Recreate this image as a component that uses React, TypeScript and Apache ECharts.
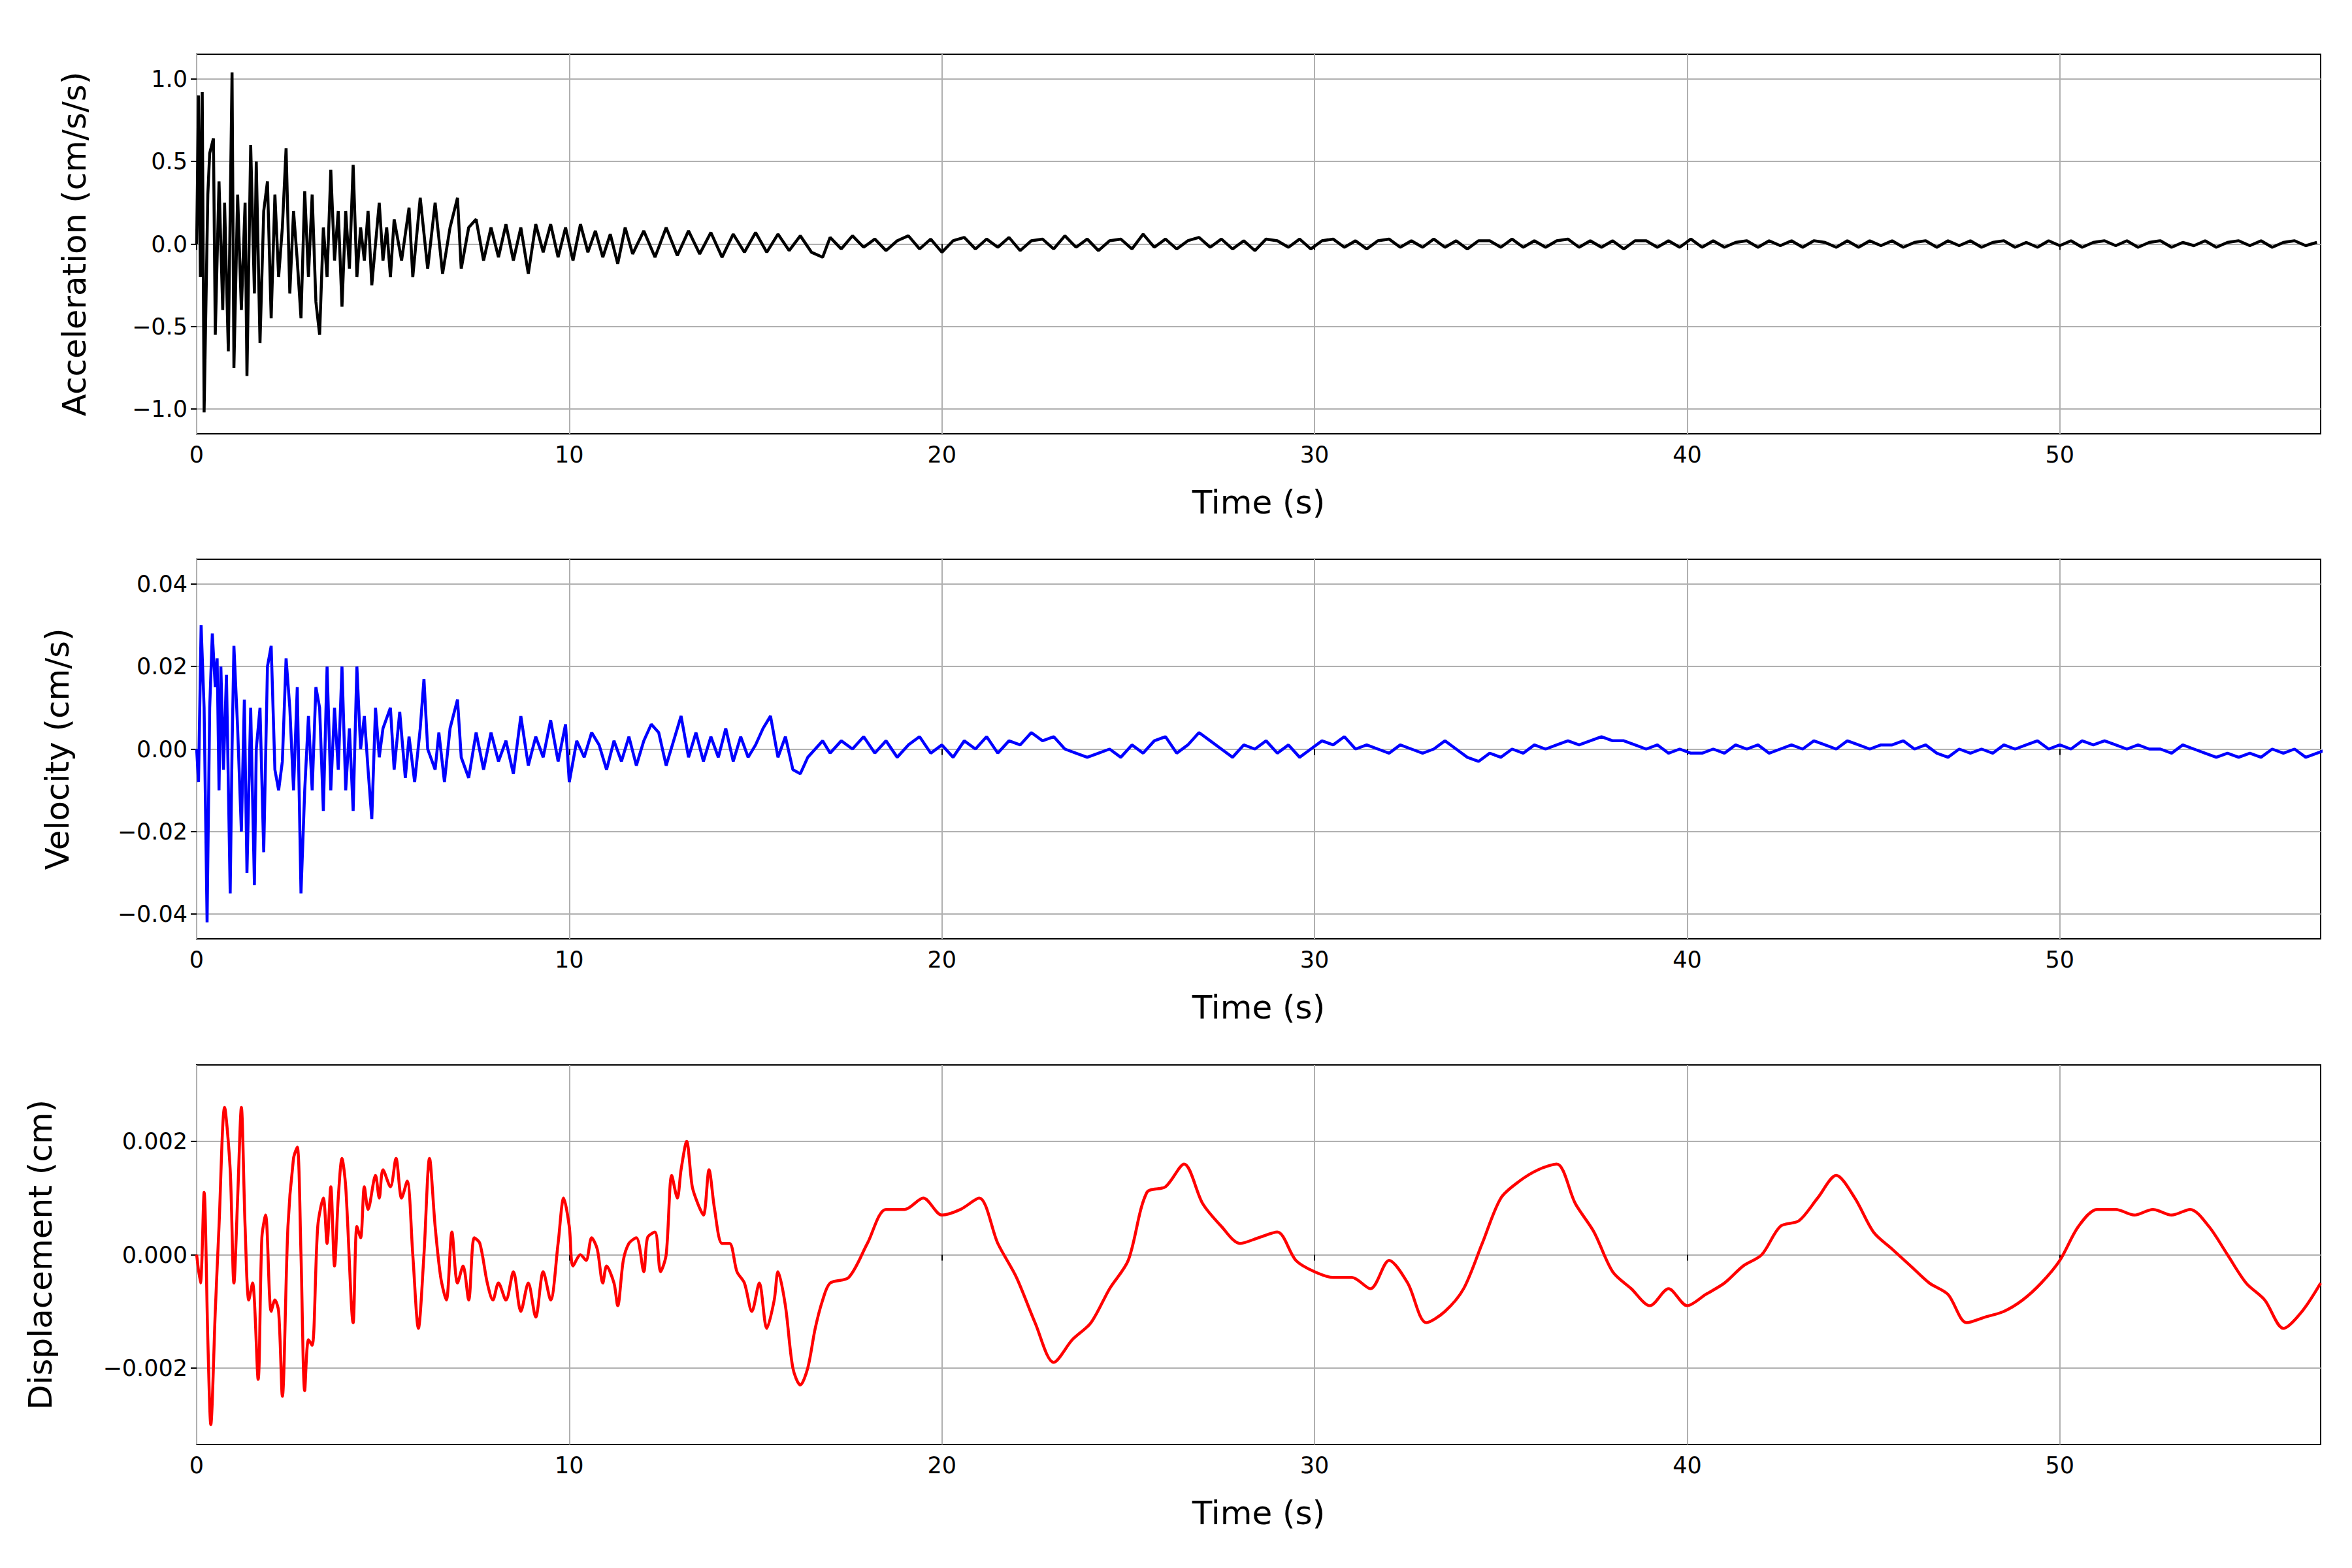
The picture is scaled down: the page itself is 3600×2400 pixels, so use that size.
import React, { useEffect, useRef } from 'react';
import * as echarts from 'echarts';

// acceleration (cm/s/s): early strong motion as [t, a]
const accelEarly: [number, number][] = [
  [0, 0], [0.05, 0.9], [0.1, -0.2], [0.15, 0.92], [0.2, -1.02], [0.3, 0.3], [0.35, 0.55], [0.45, 0.64],
  [0.5, -0.55], [0.6, 0.38], [0.7, -0.4], [0.75, 0.25], [0.85, -0.65], [0.9, 0.2], [0.95, 1.04], [1.0, -0.75],
  [1.1, 0.3], [1.2, -0.4], [1.3, 0.25], [1.35, -0.8], [1.45, 0.6], [1.55, -0.3], [1.6, 0.5], [1.7, -0.6],
  [1.8, 0.2], [1.9, 0.38], [2.0, -0.45], [2.1, 0.3], [2.2, -0.2], [2.3, 0.1], [2.4, 0.58], [2.5, -0.3],
  [2.6, 0.2], [2.7, -0.1], [2.8, -0.45], [2.9, 0.32], [3.0, -0.2], [3.1, 0.3], [3.2, -0.35], [3.3, -0.55],
  [3.4, 0.1], [3.5, -0.2], [3.6, 0.45], [3.7, -0.1], [3.8, 0.2], [3.9, -0.38], [4.0, 0.2], [4.1, -0.15],
  [4.2, 0.48], [4.3, -0.2], [4.4, 0.1], [4.5, -0.1], [4.6, 0.2], [4.7, -0.25], [4.9, 0.25], [5.0, -0.1],
  [5.1, 0.1], [5.2, -0.2], [5.3, 0.15], [5.5, -0.1], [5.7, 0.22], [5.8, -0.2], [6.0, 0.28], [6.2, -0.15],
  [6.4, 0.25], [6.6, -0.18], [6.8, 0.1], [7.0, 0.28], [7.1, -0.15], [7.3, 0.1], [7.5, 0.15], [7.7, -0.1],
  [7.9, 0.1], [8.1, -0.08], [8.3, 0.12], [8.5, -0.1], [8.7, 0.1], [8.9, -0.18], [9.1, 0.12], [9.3, -0.05],
  [9.5, 0.12], [9.7, -0.08], [9.9, 0.1], [10.1, -0.1], [10.3, 0.12], [10.5, -0.05], [10.7, 0.08], [10.9, -0.08],
  [11.1, 0.06], [11.3, -0.12], [11.5, 0.1], [11.7, -0.06], [12.0, 0.08], [12.3, -0.08], [12.6, 0.1], [12.9, -0.07],
  [13.2, 0.08], [13.5, -0.06], [13.8, 0.07], [14.1, -0.08], [14.4, 0.06], [14.7, -0.05], [15.0, 0.07], [15.3, -0.05],
  [15.6, 0.06], [15.9, -0.04], [16.2, 0.05], [16.5, -0.05], [16.8, -0.08],
];
// acceleration after 17 s, one value every 0.3 s
const accelTailStart = 17;
const accelTailStep = 0.3;
const accelTail = [
  0.04, -0.03, 0.05, -0.02, 0.03, -0.04, 0.02, 0.05, -0.03, 0.03, -0.05, 0.02, 0.04, -0.03, 0.03, -0.02,
  0.04, -0.04, 0.02, 0.03, -0.03, 0.05, -0.02, 0.03, -0.04, 0.02, 0.03, -0.03, 0.06, -0.02, 0.03, -0.03,
  0.02, 0.04, -0.02, 0.03, -0.03, 0.02, -0.04, 0.03, 0.02, -0.02, 0.03, -0.03, 0.02, 0.03, -0.02, 0.02,
  -0.03, 0.02, 0.03, -0.02, 0.02, -0.02, 0.03, -0.02, 0.02, -0.03, 0.02, 0.02, -0.02, 0.03, -0.02, 0.02,
  -0.02, 0.02, 0.03, -0.02, 0.02, -0.02, 0.02, -0.03, 0.02, 0.02, -0.02, 0.02, -0.02, 0.03, -0.02, 0.02,
  -0.02, 0.01, 0.02, -0.02, 0.02, -0.01, 0.02, -0.02, 0.02, 0.01, -0.02, 0.02, -0.02, 0.02, -0.01, 0.02,
  -0.02, 0.01, 0.02, -0.02, 0.02, -0.01, 0.02, -0.02, 0.01, 0.02, -0.02, 0.01, -0.02, 0.02, -0.01, 0.02,
  -0.02, 0.01, 0.02, -0.01, 0.02, -0.02, 0.01, 0.02, -0.02, 0.01, -0.01, 0.02, -0.02, 0.01, 0.02, -0.01,
  0.02, -0.02, 0.01, 0.02, -0.01, 0.01,
];

// velocity (cm/s)
const velEarly: [number, number][] = [
  [0, 0], [0.05, -0.008], [0.12, 0.03], [0.2, 0.01], [0.28, -0.042], [0.35, 0.01], [0.42, 0.028], [0.5, 0.015],
  [0.55, 0.022], [0.6, -0.01], [0.65, 0.02], [0.72, -0.005], [0.8, 0.018], [0.9, -0.035], [0.95, 0.0], [1.0, 0.025],
  [1.1, 0.005], [1.2, -0.02], [1.28, 0.012], [1.35, -0.03], [1.45, 0.01], [1.55, -0.033], [1.6, 0.0], [1.7, 0.01],
  [1.8, -0.025], [1.9, 0.02], [2.0, 0.025], [2.1, -0.005], [2.2, -0.01], [2.3, -0.003], [2.4, 0.022], [2.5, 0.01],
  [2.6, -0.01], [2.7, 0.015], [2.8, -0.035], [2.9, -0.01], [3.0, 0.008], [3.1, -0.01], [3.2, 0.015], [3.3, 0.01],
  [3.4, -0.015], [3.5, 0.02], [3.6, -0.01], [3.7, 0.01], [3.8, -0.005], [3.9, 0.02], [4.0, -0.01], [4.1, 0.005],
  [4.2, -0.015], [4.3, 0.02], [4.4, 0.0], [4.5, 0.008], [4.6, -0.005], [4.7, -0.017], [4.8, 0.01], [4.9, -0.002],
  [5.0, 0.005], [5.2, 0.01], [5.3, -0.005], [5.45, 0.009], [5.6, -0.007], [5.7, 0.003], [5.85, -0.008], [6.0, 0.005],
  [6.1, 0.017], [6.2, 0.0], [6.4, -0.005], [6.5, 0.004], [6.65, -0.008], [6.8, 0.005], [7.0, 0.012], [7.1, -0.002],
  [7.3, -0.007], [7.5, 0.004], [7.7, -0.005], [7.9, 0.004], [8.1, -0.003], [8.3, 0.002], [8.5, -0.006], [8.7, 0.008],
  [8.9, -0.004], [9.1, 0.003], [9.3, -0.002], [9.5, 0.007], [9.7, -0.003], [9.9, 0.006], [10.0, -0.008], [10.2, 0.002],
  [10.4, -0.002], [10.6, 0.004], [10.8, 0.001], [11.0, -0.005], [11.2, 0.002], [11.4, -0.003], [11.6, 0.003], [11.8, -0.004],
  [12.0, 0.002], [12.2, 0.006], [12.4, 0.004], [12.6, -0.004], [12.8, 0.002], [13.0, 0.008], [13.2, -0.002], [13.4, 0.004],
  [13.6, -0.003], [13.8, 0.003], [14.0, -0.002], [14.2, 0.005], [14.4, -0.003], [14.6, 0.003], [14.8, -0.002], [15.0, 0.001],
  [15.2, 0.005], [15.4, 0.008], [15.6, -0.002], [15.8, 0.003], [16.0, -0.005], [16.2, -0.006], [16.4, -0.002], [16.6, 0.0],
  [16.8, 0.002],
];
const velTailStart = 17;
const velTailStep = 0.3;
const velTail = [
  -0.001, 0.002, 0.0, 0.003, -0.001, 0.002, -0.002, 0.001, 0.003, -0.001, 0.001, -0.002, 0.002, 0.0, 0.003, -0.001,
  0.002, 0.001, 0.004, 0.002, 0.003, 0.0, -0.001, -0.002, -0.001, 0.0, -0.002, 0.001, -0.001, 0.002, 0.003, -0.001,
  0.001, 0.004, 0.002, 0.0, -0.002, 0.001, 0.0, 0.002, -0.001, 0.001, -0.002, 0.0, 0.002, 0.001, 0.003, 0.0,
  0.001, 0.0, -0.001, 0.001, 0.0, -0.001, 0.0, 0.002, 0.0, -0.002, -0.003, -0.001, -0.002, 0.0, -0.001, 0.001,
  0.0, 0.001, 0.002, 0.001, 0.002, 0.003, 0.002, 0.002, 0.001, 0.0, 0.001, -0.001, 0.0, -0.001, -0.001, 0.0,
  -0.001, 0.001, 0.0, 0.001, -0.001, 0.0, 0.001, 0.0, 0.002, 0.001, 0.0, 0.002, 0.001, 0.0, 0.001, 0.001,
  0.002, 0.0, 0.001, -0.001, -0.002, 0.0, -0.001, 0.0, -0.001, 0.001, 0.0, 0.001, 0.002, 0.0, 0.001, 0.0,
  0.002, 0.001, 0.002, 0.001, 0.0, 0.001, 0.0, 0.0, -0.001, 0.001, 0.0, -0.001, -0.002, -0.001, -0.002, -0.001,
  -0.002, 0.0, -0.001, 0.0, -0.002, -0.001, 0.0,
];

// displacement (1e-3 cm)
const dispEarly: [number, number][] = [
  [0, 0], [0.1, -0.5], [0.2, 1.1], [0.3, -1.5], [0.38, -3.0], [0.5, -1.0], [0.6, 0.5], [0.75, 2.6],
  [0.9, 1.5], [1.0, -0.5], [1.1, 1.0], [1.2, 2.6], [1.3, 0.5], [1.4, -0.8], [1.5, -0.5], [1.65, -2.2],
  [1.75, 0.3], [1.85, 0.7], [2.0, -1.0], [2.1, -0.8], [2.2, -1.0], [2.3, -2.5], [2.45, 0.5], [2.6, 1.7],
  [2.7, 1.9], [2.8, 0.0], [2.9, -2.4], [3.0, -1.5], [3.1, -1.6], [3.25, 0.5], [3.4, 1.0], [3.5, 0.2],
  [3.6, 1.2], [3.7, -0.2], [3.8, 1.0], [3.9, 1.7], [4.0, 1.2], [4.2, -1.2], [4.3, 0.5], [4.4, 0.3],
  [4.5, 1.2], [4.6, 0.8], [4.8, 1.4], [4.9, 1.0], [5.0, 1.5], [5.2, 1.2], [5.35, 1.7], [5.5, 1.0],
  [5.65, 1.3], [5.8, 0.0], [5.95, -1.3], [6.1, 0.0], [6.25, 1.7], [6.4, 0.5], [6.55, -0.4], [6.7, -0.8],
  [6.85, 0.4], [7.0, -0.5], [7.15, -0.2], [7.3, -0.8], [7.45, 0.3], [7.6, 0.2], [7.8, -0.5], [7.95, -0.8],
  [8.1, -0.5], [8.3, -0.8], [8.5, -0.3], [8.7, -1.0], [8.9, -0.5], [9.1, -1.1], [9.3, -0.3], [9.5, -0.8],
  [9.7, 0.2], [9.85, 1.0], [10.0, 0.5], [10.1, -0.2], [10.3, 0.0], [10.45, -0.1], [10.6, 0.3], [10.75, 0.1],
  [10.9, -0.5], [11.0, -0.2], [11.2, -0.5], [11.3, -0.9], [11.45, -0.1], [11.6, 0.2], [11.8, 0.3], [12.0, -0.3],
  [12.1, 0.3], [12.3, 0.4], [12.45, -0.3], [12.6, 0.0], [12.75, 1.4], [12.9, 1.0], [13.0, 1.5], [13.15, 2.0],
  [13.3, 1.2], [13.45, 0.9], [13.6, 0.7], [13.75, 1.5], [13.9, 0.8], [14.1, 0.2], [14.3, 0.2], [14.5, -0.3],
  [14.7, -0.5], [14.9, -1.0], [15.1, -0.5], [15.3, -1.3], [15.5, -0.8], [15.6, -0.3], [15.8, -0.9], [16.0, -2.0],
  [16.2, -2.3], [16.4, -2.0], [16.6, -1.3], [16.8, -0.8], [17.0, -0.5],
];
const dispTailStart = 17.5;
const dispTailStep = 0.5;
const dispTail = [
  -0.4, 0.2, 0.8, 0.8, 1.0, 0.7, 0.8, 1.0, 0.2, -0.4, -1.2, -1.9, -1.5, -1.2, -0.6, -0.1,
  1.1, 1.2, 1.6, 0.9, 0.5, 0.2, 0.3, 0.4, -0.1, -0.3, -0.4, -0.4, -0.6, -0.1, -0.5, -1.2,
  -1.0, -0.6, 0.2, 1.0, 1.3, 1.5, 1.6, 0.9, 0.4, -0.3, -0.6, -0.9, -0.6, -0.9, -0.7, -0.5,
  -0.2, 0.0, 0.5, 0.6, 1.0, 1.4, 1.0, 0.4, 0.1, -0.2, -0.5, -0.7, -1.2, -1.1, -1.0, -0.8,
  -0.5, -0.1, 0.5, 0.8, 0.8, 0.7, 0.8, 0.7, 0.8, 0.5, 0.0, -0.5, -0.8, -1.3, -1.0, -0.5,
];

const xTicks = [0, 10, 20, 30, 40, 50];
const accelTicks = [-1, -0.5, 0, 0.5, 1];
const velTicks = [-0.04, -0.02, 0, 0.02, 0.04];
const dispTicks = [-0.002, 0, 0.002];

const withTail = (early: [number, number][], start: number, step: number, tail: number[], scale = 1) =>
  early.map(([t, v]) => [t, v * scale]).concat(tail.map((v, i) => [+(start + i * step).toFixed(2), v * scale]));

const FONT = 'DejaVu Sans';
const minus = (s: string) => s.replace('-', '\u2212');

const App: React.FC = () => {
  const ref = useRef<HTMLDivElement>(null);

  useEffect(() => {
    const chart = echarts.init(ref.current!, undefined, { renderer: 'svg' });
    const tops = [75, 848, 1622];
    const names = ['Acceleration (cm/s/s)', 'Velocity (cm/s)', 'Displacement (cm)'];
    const ranges = [[-1.15, 1.15], [-0.046, 0.046], [-0.00335, 0.00335]];
    const ticks = [accelTicks, velTicks, dispTicks];
    const decimals = [1, 2, 3];
    const gaps = [162, 188, 214];
    const colors = ['#000000', '#0000ff', '#ff0000'];
    const data = [
      withTail(accelEarly, accelTailStart, accelTailStep, accelTail),
      withTail(velEarly, velTailStart, velTailStep, velTail),
      withTail(dispEarly, dispTailStart, dispTailStep, dispTail, 0.001),
    ];

    chart.setOption({
      animation: false,
      backgroundColor: '#ffffff',
      grid: tops.map(top => ({
        left: 293, right: 40, top, height: 581, show: true,
        borderColor: '#000', borderWidth: 2, backgroundColor: 'transparent',
      })),
      xAxis: tops.map((_, i) => ({
        type: 'value', gridIndex: i, min: 0, max: 57,
        name: 'Time (s)', nameLocation: 'middle', nameGap: 80,
        nameTextStyle: { fontFamily: FONT, fontSize: 50, color: '#000' },
        axisLine: { show: false },
        axisTick: { show: true, inside: false, length: 9, customValues: xTicks, lineStyle: { color: '#000', width: 2 } },
        axisLabel: { customValues: xTicks, fontFamily: FONT, fontSize: 35, color: '#000', margin: 14 },
        splitLine: { show: true, lineStyle: { color: '#b0b0b0', width: 2 } },
      })),
      yAxis: tops.map((_, i) => ({
        type: 'value', gridIndex: i, min: ranges[i][0], max: ranges[i][1],
        name: names[i], nameLocation: 'middle', nameGap: gaps[i],
        nameTextStyle: { fontFamily: FONT, fontSize: 50, color: '#000' },
        axisLine: { show: false },
        axisTick: { show: true, inside: false, length: 9, customValues: ticks[i], lineStyle: { color: '#000', width: 2 } },
        axisLabel: {
          customValues: ticks[i], fontFamily: FONT, fontSize: 35, color: '#000', margin: 14,
          formatter: (v: number) => minus(v.toFixed(decimals[i])),
        },
        splitLine: { show: true, lineStyle: { color: '#b0b0b0', width: 2 } },
      })),
      series: data.map((d, i) => ({
        type: 'line', xAxisIndex: i, yAxisIndex: i, data: d,
        showSymbol: false, smooth: i === 2 ? 0.3 : false,
        lineStyle: { color: colors[i], width: 4.5 },
      })),
    });

    return () => chart.dispose();
  }, []);

  return <div ref={ref} style={{ width: 3584, height: 2384 }} />;
};

export default App;
